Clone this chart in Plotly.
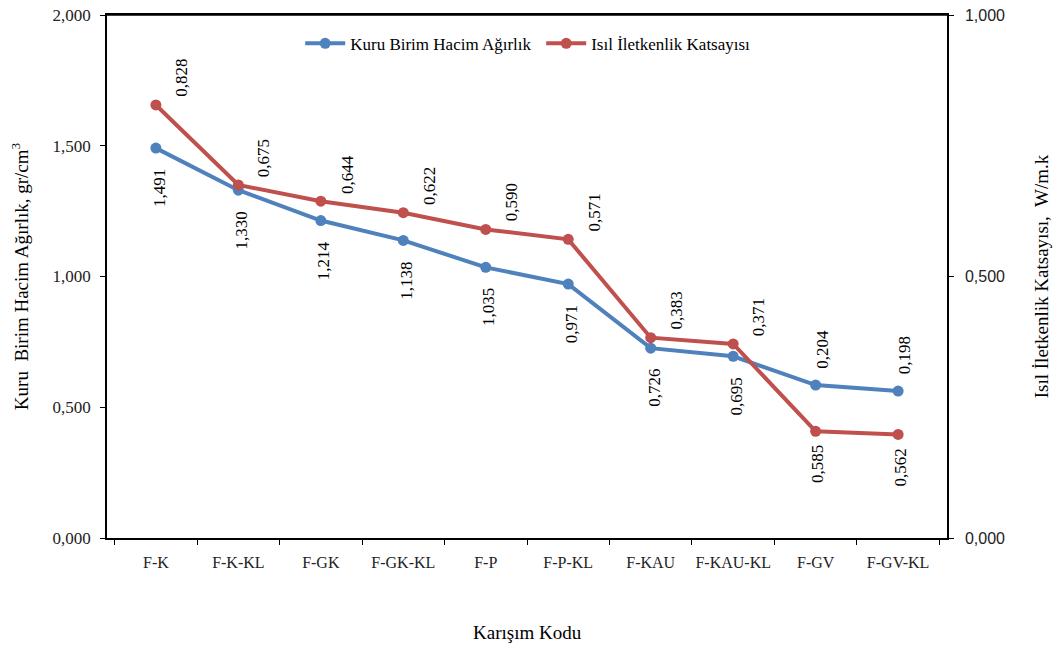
import plotly.graph_objects as go

categories = ["F-K", "F-K-KL", "F-GK", "F-GK-KL", "F-P", "F-P-KL",
              "F-KAU", "F-KAU-KL", "F-GV", "F-GV-KL"]
density = [1.491, 1.330, 1.214, 1.138, 1.035, 0.971, 0.726, 0.695, 0.585, 0.562]
conductivity = [0.828, 0.675, 0.644, 0.622, 0.590, 0.571, 0.383, 0.371, 0.204, 0.198]

left_ticks = [0.0, 0.5, 1.0, 1.5, 2.0]
right_ticks = [0.0, 0.5, 1.0]

BLUE = "#4F81BD"
RED = "#C0504D"
SERIF = "Liberation Serif"
SANS = "Liberation Sans"

def fmt(v):
    return f"{v:.3f}".replace(".", ",")

fig = go.Figure()
fig.add_trace(go.Scatter(
    x=categories, y=density, name="Kuru Birim Hacim Ağırlık",
    mode="lines+markers", line=dict(color=BLUE, width=4),
    marker=dict(color=BLUE, size=11), yaxis="y"))
fig.add_trace(go.Scatter(
    x=categories, y=conductivity, name="Isıl İletkenlik Katsayısı",
    mode="lines+markers", line=dict(color=RED, width=4),
    marker=dict(color=RED, size=11), yaxis="y2"))

LABEL_FONT = dict(family=SERIF, size=17, color="black")

# data labels (rotated), placed relative to the series points
for c, d, k in zip(categories, density, conductivity):
    red_upper = k * 2 >= d  # compare in the same pixel scale
    if red_upper:
        fig.add_annotation(x=c, y=d, yref="y", text=fmt(d), textangle=-90,
                           showarrow=False, xanchor="center", yanchor="middle",
                           xshift=3, yshift=-40, font=LABEL_FONT)
        fig.add_annotation(x=c, y=k, yref="y2", text=fmt(k), textangle=-90,
                           showarrow=False, xanchor="center", yanchor="middle",
                           xshift=26, yshift=27, font=LABEL_FONT)
    else:
        fig.add_annotation(x=c, y=k, yref="y2", text=fmt(d), textangle=-90,
                           showarrow=False, xanchor="center", yanchor="middle",
                           xshift=2, yshift=-33, font=LABEL_FONT)
        fig.add_annotation(x=c, y=d, yref="y", text=fmt(k), textangle=-90,
                           showarrow=False, xanchor="center", yanchor="middle",
                           xshift=6, yshift=36, font=LABEL_FONT)

# x-axis title
fig.add_annotation(x=0.5, y=-0.18, xref="paper", yref="paper", text="Karışım Kodu",
                   showarrow=False, xanchor="center", yanchor="middle",
                   font=dict(family=SERIF, size=19, color="black"))

# plot-area top border
fig.add_shape(type="line", xref="paper", yref="paper", x0=0, x1=1, y0=1, y1=1,
              line=dict(color="black", width=1.5))

fig.update_layout(
    width=1046, height=637,
    margin=dict(l=99, r=107, t=7, b=107),
    paper_bgcolor="white", plot_bgcolor="white",
    separators=",.",
    showlegend=True,
    legend=dict(orientation="h", x=0.23, xanchor="left", y=0.945, yanchor="middle",
                font=dict(family=SERIF, size=17, color="black"),
                itemwidth=40, entrywidth=186, entrywidthmode="pixels",
                bgcolor="rgba(0,0,0,0)"),
    xaxis=dict(
        automargin=False,
        showline=True, linecolor="black", linewidth=1.5, mirror=True,
        ticks="outside", ticklen=5, tickcolor="black", tickson="boundaries",
        tickangle=0, ticklabelstandoff=9,
        showgrid=False, tickfont=dict(family=SERIF, size=16, color="#222"),
    ),
    yaxis=dict(
        automargin=False,
        range=[0, 2], tickvals=left_ticks, tickformat=".3f",
        showline=True, linecolor="black", linewidth=1.5,
        ticks="outside", ticklen=5, tickcolor="black", showgrid=False, zeroline=False,
        ticklabelstandoff=6, ticklabeloverflow="allow",
        tickfont=dict(family=SERIF, size=17, color="#222"),
        title=dict(text="Kuru  Birim Hacim Ağırlık, gr/cm<sup>3</sup>",
                   font=dict(family=SERIF, size=19, color="black"), standoff=19),
    ),
    yaxis2=dict(
        automargin=False,
        range=[0, 1], tickvals=right_ticks, tickformat=".3f",
        overlaying="y", side="right",
        showline=True, linecolor="black", linewidth=1.5,
        ticks="outside", ticklen=5, tickcolor="black", showgrid=False, zeroline=False,
        ticklabelstandoff=8, ticklabeloverflow="allow",
        tickfont=dict(family=SANS, size=16, color="#222"),
        title=dict(text="Isıl İletkenlik Katsayısı,  W/m.k",
                   font=dict(family=SERIF, size=19, color="black"), standoff=31),
    ),
)

fig.write_html("out.html")
